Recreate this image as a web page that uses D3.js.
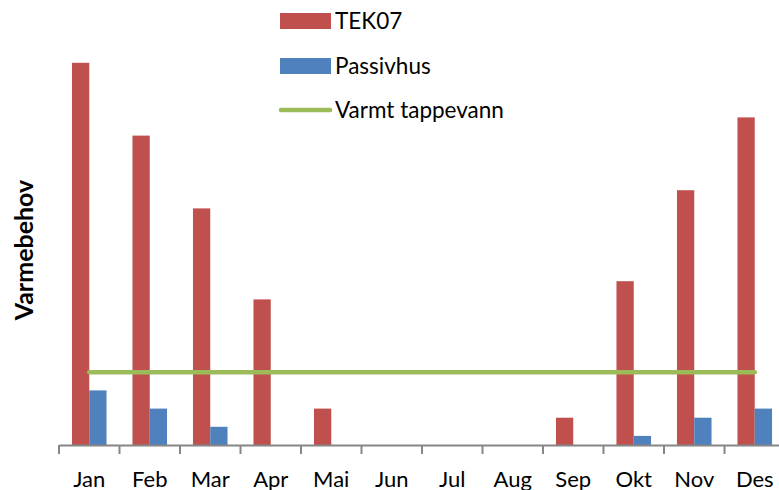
<!DOCTYPE html>
<html>
<head>
<meta charset="utf-8">
<script src="https://cdnjs.cloudflare.com/ajax/libs/d3/7.8.5/d3.min.js"></script>
<style>
  body { margin: 0; background: #fff; }
  text { font-family: Lato, "Liberation Sans", sans-serif; fill: #000; }
</style>
</head>
<body>
<script>
// monthly heat demand (relative units)
const months = ["Jan", "Feb", "Mar", "Apr", "Mai", "Jun", "Jul", "Aug", "Sep", "Okt", "Nov", "Des"];
const tek07 = [42, 34, 26, 16, 4, 0, 0, 0, 3, 18, 28, 36];
const passivhus = [6, 4, 2, 0, 0, 0, 0, 0, 0, 1, 3, 4];
const tappevann = [8, 8, 8, 8, 8, 8, 8, 8, 8, 8, 8, 8];
const seriesNames = ["TEK07", "Passivhus", "Varmt tappevann"];

const width = 779;
const height = 490;
const colors = { TEK07: "#C0504D", Passivhus: "#4F81BD", line: "#9BBB59" };

const rows = months.map((m, i) => ({ month: m, TEK07: tek07[i], Passivhus: passivhus[i], vann: tappevann[i] }));

const svg = d3.select("body")
    .append("svg")
    .attr("width", width)
    .attr("height", height);

const xScale = d3.scaleBand()
    .domain(months)
    .range([59, 785])
    .padding(0);

const xInner = d3.scaleBand()
    .domain(["TEK07", "Passivhus"])
    .range([0, xScale.bandwidth()])
    .paddingInner(0)
    .paddingOuter(0.75);

const yScale = d3.scaleLinear()
    .domain([0, 45])
    .range([445, 445 - 45 * 9.1]);

// bars
const groups = svg.append("g")
    .selectAll("g")
    .data(rows)
    .enter()
    .append("g")
    .attr("transform", d => "translate(" + xScale(d.month) + ",0)");

groups.selectAll("rect")
    .data(d => ["TEK07", "Passivhus"].map(k => ({ key: k, value: d[k] })))
    .enter()
    .append("rect")
    .attr("x", d => xInner(d.key))
    .attr("y", d => yScale(d.value))
    .attr("width", xInner.bandwidth())
    .attr("height", d => yScale(0) - yScale(d.value))
    .attr("fill", d => colors[d.key]);

// x axis
const xAxis = d3.axisBottom(xScale).tickSize(0).tickPadding(26);
const axisG = svg.append("g")
    .attr("transform", "translate(0,445)")
    .call(xAxis);
axisG.select(".domain").attr("stroke", "#868686").attr("stroke-width", 2);
axisG.selectAll("text").attr("font-size", 22).attr("font-family", "Lato, sans-serif");

axisG.selectAll(".boundary")
    .data(months.map(m => xScale(m)).concat([xScale.range()[1]]))
    .enter()
    .append("line")
    .attr("class", "boundary")
    .attr("x1", d => d)
    .attr("x2", d => d)
    .attr("y1", 0)
    .attr("y2", 9)
    .attr("stroke", "#868686")
    .attr("stroke-width", 2);

// hot water line
const line = d3.line()
    .x(d => xScale(d.month) + xScale.bandwidth() / 2)
    .y(d => yScale(d.vann));

svg.append("path")
    .datum(rows)
    .attr("d", line)
    .attr("fill", "none")
    .attr("stroke", colors.line)
    .attr("stroke-width", 4.5)
    .attr("stroke-linecap", "round");

// y axis title
svg.append("text")
    .attr("transform", "translate(33,250) rotate(-90)")
    .attr("text-anchor", "middle")
    .attr("font-weight", "bold")
    .attr("font-size", 25)
    .text("Varmebehov");

// legend
const leg = svg.append("g").attr("id", "legend");
const legY = [21, 66, 110];

leg.append("rect").attr("x", 280).attr("y", 13).attr("width", 51).attr("height", 16).attr("fill", colors.TEK07);
leg.append("rect").attr("x", 280).attr("y", 58).attr("width", 51).attr("height", 16).attr("fill", colors.Passivhus);
leg.append("line").attr("x1", 281).attr("x2", 330).attr("y1", 110).attr("y2", 110)
    .attr("stroke", colors.line).attr("stroke-width", 4.5).attr("stroke-linecap", "round");

leg.selectAll("text")
    .data(seriesNames)
    .enter()
    .append("text")
    .attr("x", 335)
    .attr("y", (d, i) => legY[i])
    .attr("dy", "0.35em")
    .attr("font-size", 22.5)
    .text(d => d);
</script>
</body>
</html>
